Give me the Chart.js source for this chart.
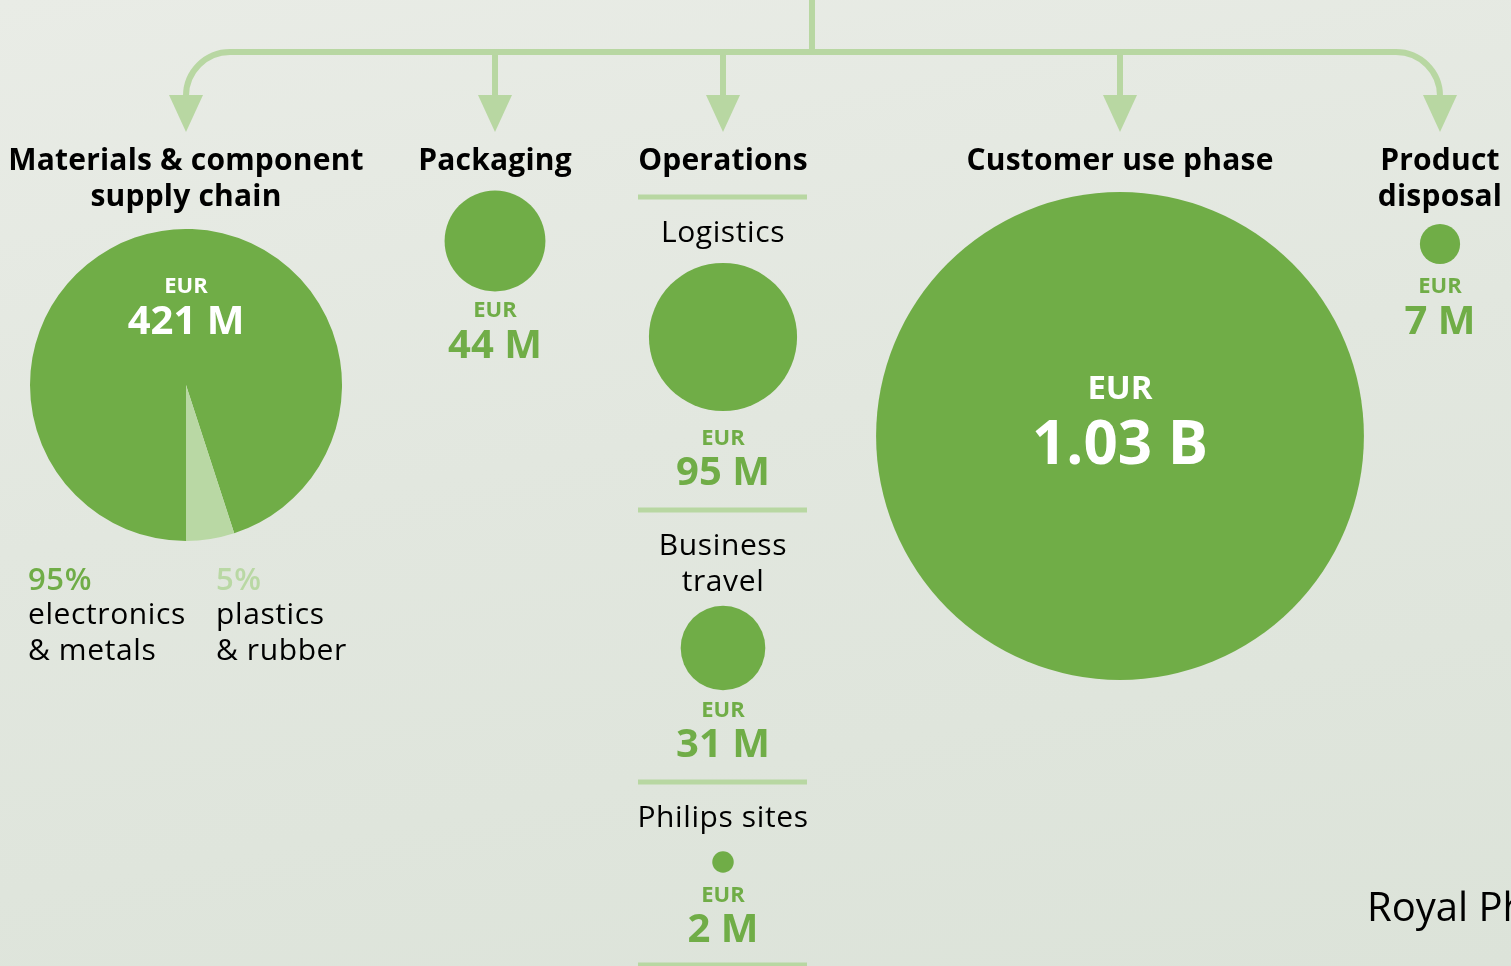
<!DOCTYPE html>
<html>
<head>
<meta charset="utf-8">
<script src="https://cdn.jsdelivr.net/npm/chart.js@4.4.0/dist/chart.umd.min.js"></script>
<style>
    html, body { margin: 0; padding: 0; }
    body {
        width: 1511px; height: 966px; overflow: hidden; position: relative;
        background: linear-gradient(170deg, #e9ece6 0%, #e2e7df 45%, #dce3d9 100%);
        font-family: 'Open Sans', sans-serif;
    }
    canvas { position: absolute; left: 0; top: 0; }
    .t { position: absolute; white-space: nowrap; line-height: 1; transform: translate(-50%, -50%); }
    .t.l { transform: translate(0, -50%); }
</style>
</head>
<body>
<canvas id="bubbles" width="1511" height="966"></canvas>
<canvas id="pie"></canvas>
<script>
// ── Data (EUR million) ──
const categories = ['Materials & component\nsupply chain', 'Packaging', 'Operations', 'Customer use phase', 'Product\ndisposal'];
const categoryValues = [421, 44, 128, 1030, 7];

const operationsParts = ['Logistics', 'Business\ntravel', 'Philips sites'];
const operationsValues = [95, 31, 2];

const materialsSplit = ['electronics\n& metals', 'plastics\n& rubber'];
const materialsShares = [95, 5];

// ── Style / layout ──
const GREEN = '#70ad47', PALE = '#b9d8a4', LINE = '#b8d7a2';
const colX = [186, 495, 723, 1120, 1440];
const opsY = [337, 648, 862];
const K = 7.6;                        // px per sqrt(EUR M)
const radius = v => Math.sqrt(v) * K;
const fmt = v => v >= 1000 ? (v / 1000).toFixed(2) + ' B' : v + ' M';

// tree of arrows + separators in the operations column
const tree = {
    id: 'tree',
    beforeDatasetsDraw(chart) {
        const { ctx, scales: { x, y } } = chart;
        const X = v => x.getPixelForValue(v), Y = v => y.getPixelForValue(v);
        const top = 52, head = 96, rad = 44;
        ctx.save();
        ctx.strokeStyle = LINE; ctx.fillStyle = LINE; ctx.lineWidth = 6;

        ctx.beginPath();
        ctx.moveTo(X(812), Y(0)); ctx.lineTo(X(812), Y(top));
        ctx.stroke();

        ctx.beginPath();
        ctx.moveTo(X(colX[0]), Y(head));
        ctx.arcTo(X(colX[0]), Y(top), X(colX[0] + rad), Y(top), rad);
        ctx.lineTo(X(colX[4] - rad), Y(top));
        ctx.arcTo(X(colX[4]), Y(top), X(colX[4]), Y(head), rad);
        ctx.lineTo(X(colX[4]), Y(head));
        ctx.stroke();

        colX.slice(1, 4).forEach(cx => {
            ctx.beginPath(); ctx.moveTo(X(cx), Y(top)); ctx.lineTo(X(cx), Y(head)); ctx.stroke();
        });
        colX.forEach(cx => {
            ctx.beginPath();
            ctx.moveTo(X(cx - 17), Y(head - 1));
            ctx.lineTo(X(cx + 17), Y(head - 1));
            ctx.lineTo(X(cx), Y(head + 36));
            ctx.closePath(); ctx.fill();
        });

        ctx.lineWidth = 5;
        [197, 510, 782, 965].forEach(yy => {
            ctx.beginPath(); ctx.moveTo(X(638), Y(yy)); ctx.lineTo(X(807), Y(yy)); ctx.stroke();
        });
        ctx.restore();
    }
};

const bubblePoints = [
    { x: colX[1], y: 241, r: radius(categoryValues[1]) },
    { x: colX[3], y: 436, r: radius(categoryValues[3]) },
    { x: colX[4], y: 244, r: radius(categoryValues[4]) },
    ...operationsValues.map((v, i) => ({ x: colX[2], y: opsY[i], r: radius(v) }))
];

new Chart(document.getElementById('bubbles'), {
    type: 'bubble',
    data: { datasets: [{ data: bubblePoints, backgroundColor: GREEN, borderWidth: 0, hoverRadius: 0, clip: false }] },
    options: {
        responsive: false, animation: false, events: [],
        layout: { padding: 0, autoPadding: false },
        plugins: { legend: { display: false }, tooltip: { enabled: false } },
        scales: {
            x: { type: 'linear', min: 0, max: 1511, display: false },
            y: { type: 'linear', min: 0, max: 966, reverse: true, display: false }
        }
    },
    plugins: [tree]
});

// ── Materials pie ──
const pieR = radius(categoryValues[0]);
const pieCanvas = document.getElementById('pie');
pieCanvas.width = pieCanvas.height = Math.round(pieR * 2);
pieCanvas.style.left = (colX[0] - pieR) + 'px';
pieCanvas.style.top = (385 - pieR) + 'px';
new Chart(pieCanvas, {
    type: 'pie',
    data: { labels: materialsSplit, datasets: [{ data: materialsShares, backgroundColor: [GREEN, PALE], borderWidth: 0 }] },
    options: {
        responsive: false, animation: false, events: [], rotation: 180,
        layout: { padding: 0 },
        plugins: { legend: { display: false }, tooltip: { enabled: false } }
    }
});

// ── Text ──
function label(text, x, y, size, weight, color, left, spacing) {
    text.split('\n').forEach((line, i) => {
        const d = document.createElement('div');
        d.className = 't' + (left ? ' l' : '');
        d.textContent = line;
        d.style.left = x + 'px';
        d.style.top = (y - 1 + i * 36) + 'px';
        d.style.fontSize = size + 'px';
        d.style.fontWeight = weight;
        d.style.color = color;
        if (spacing) d.style.letterSpacing = spacing + 'px';
        document.body.appendChild(d);
    });
}

categories.forEach((c, i) => label(c, colX[i], 160, 30, 700, '#000', false, 0.2));

label('EUR', colX[0], 285, 22, 700, '#fff');
label(fmt(categoryValues[0]), colX[0], 320, 40, 700, '#fff');
label('EUR', colX[1], 309, 22, 700, GREEN);
label(fmt(categoryValues[1]), colX[1], 344, 40, 700, GREEN);
label('EUR', colX[3], 387, 33, 700, '#fff');
label(fmt(categoryValues[3]), colX[3], 442, 60, 700, '#fff');
label('EUR', colX[4], 285, 22, 700, GREEN);
label(fmt(categoryValues[4]), colX[4], 320, 40, 700, GREEN);

const opsLabelY = [232, 545, 817];
const opsEurY = [437, 709, 894];
operationsParts.forEach((p, i) => {
    label(p, colX[2], opsLabelY[i], 30, 400, '#000', false, 0.6);
    label('EUR', colX[2], opsEurY[i], 22, 700, GREEN);
    label(fmt(operationsValues[i]), colX[2], opsEurY[i] + 34, 40, 700, GREEN);
});

label(materialsShares[0] + '%', 28, 579, 31, 600, GREEN, true, 0.6);
label(materialsSplit[0], 28, 614, 30, 400, '#000', true, 0.6);
label(materialsShares[1] + '%', 216, 579, 31, 600, PALE, true, 0.6);
label(materialsSplit[1], 216, 614, 30, 400, '#000', true, 0.6);

label('Royal Philips', 1367, 907, 40, 400, '#000', true);
</script>
</body>
</html>
